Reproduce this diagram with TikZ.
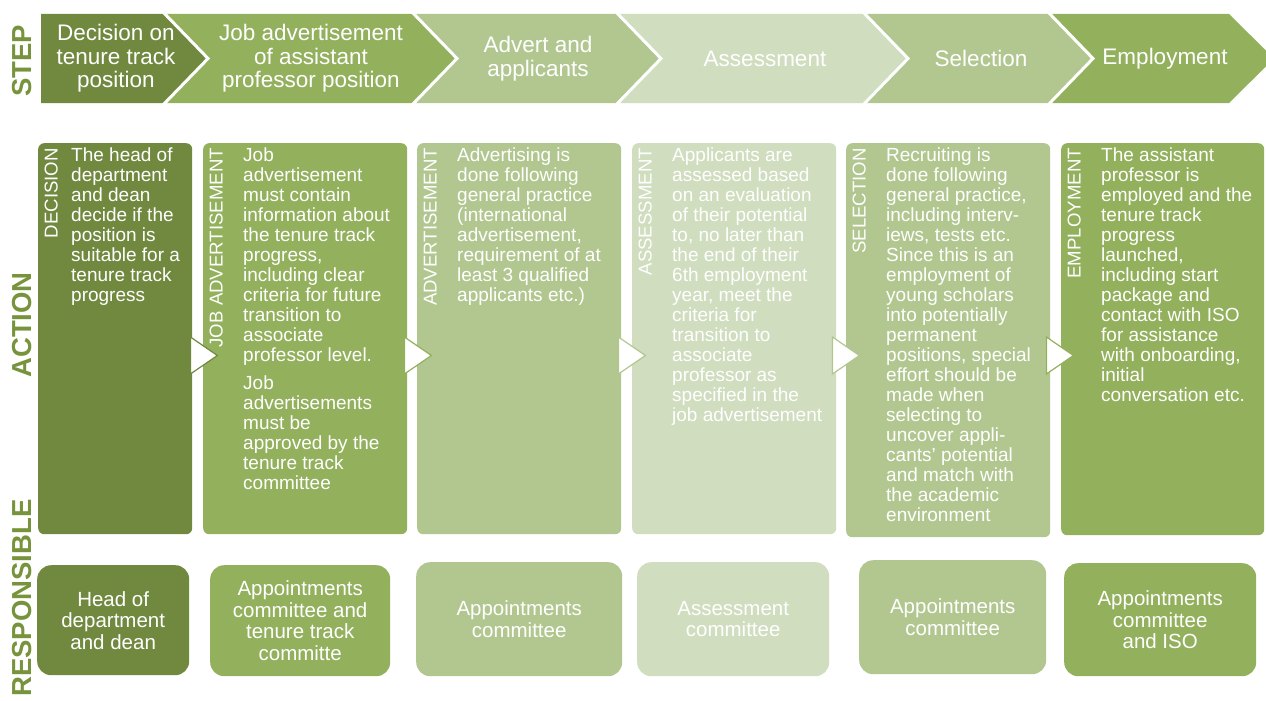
\documentclass[tikz,border=0pt]{standalone}
\usepackage{fontspec}
\setmainfont{Liberation Sans}
\usetikzlibrary{calc}
\definecolor{cA}{HTML}{71893F}
\definecolor{cB}{HTML}{93B05D}
\definecolor{cC}{HTML}{B2C790}
\definecolor{cD}{HTML}{D0DDBF}
\definecolor{labc}{HTML}{77933C}
\tikzset{
  steptext/.style={text=white, align=center, inner sep=0pt, font=\fontsize{22.5}{23.5}\selectfont},
  sidelab/.style={text=labc, rotate=90, inner sep=0pt, font=\bfseries\fontsize{27.5}{28}\selectfont},
  abox/.style={rounded corners=6pt, minimum height=391pt, anchor=north west, inner sep=0pt, draw=none},
  atext/.style={text=white, align=left, anchor=north west, inner sep=0pt, font=\fontsize{19}{20}\selectfont},
  vlab/.style={text=white, rotate=90, anchor=base east, inner sep=0pt, font=\fontsize{18.6}{19}\selectfont},
  rbox/.style={rounded corners=14pt, anchor=north west, inner sep=0pt, text=white, align=center, font=\fontsize{20.5}{21.5}\selectfont},
  arrowtri/.style={fill=white, draw=#1, line width=1.2pt, line join=miter},
  sep/.style={draw=white, line width=3pt, line join=miter}
}
\begin{document}
\begin{tikzpicture}[x=1pt,y=-1pt]
\useasboundingbox (0,0) rectangle (1266,701);
\fill[white] (0,0) rectangle (1266,701);
% ---------- STEP chevrons ----------
\fill[cA] (41,14) -- (163,14) -- (208,58.5) -- (163,103) -- (41,103) -- cycle;
\fill[cB] (163,14) -- (412,14) -- (457,58.5) -- (412,103) -- (163,103) -- (208,58.5) -- cycle;
\fill[cC] (412,14) -- (616,14) -- (661,58.5) -- (616,103) -- (412,103) -- (457,58.5) -- cycle;
\fill[cD] (616,14) -- (863,14) -- (908,58.5) -- (863,103) -- (616,103) -- (661,58.5) -- cycle;
\fill[cC] (863,14) -- (1048,14) -- (1093,58.5) -- (1048,103) -- (863,103) -- (908,58.5) -- cycle;
\fill[cB] (1048,14) -- (1229,14) -- (1274,58.5) -- (1229,103) -- (1048,103) -- (1093,58.5) -- cycle;
\draw[sep] (163,12) -- (208,58.5) -- (163,105);
\draw[sep] (412,12) -- (457,58.5) -- (412,105);
\draw[sep] (616,12) -- (661,58.5) -- (616,105);
\draw[sep] (863,12) -- (908,58.5) -- (863,105);
\draw[sep] (1048,12) -- (1093,58.5) -- (1048,105);
\node[steptext] (s1) at (116,58.5) {Decision on\\tenure track\\position};
\node[steptext] (s2) at (311,58.5) {Job advertisement\\of assistant\\professor position};
\node[steptext] (s3) at (538,58.5) {Advert and\\applicants};
\node[steptext] (s4) at (765,58.5) {Assessment};
\node[steptext] (s5) at (981,58.5) {Selection};
\node[steptext] (s6) at (1165,58.5) {Employment};
% ---------- side labels ----------
\node[sidelab] (lstep) at (22,61) {STEP};
\node[sidelab] (lact) at (22,325) {ACTION};
\node[sidelab] (lresp) at (22,598) {RESPONSIBLE};
% ---------- ACTION boxes ----------
\node[abox, fill=cA, minimum width=154pt] (a1) at (38,143) {};
\node[abox, fill=cB, minimum width=204pt] (a2) at (203,143) {};
\node[abox, fill=cC, minimum width=204pt] (a3) at (417,143) {};
\node[abox, fill=cD, minimum width=204pt] (a4) at (632,143) {};
\node[abox, fill=cC, minimum width=204pt, minimum height=394pt] (a5) at (846,143) {};
\node[abox, fill=cB, minimum width=203pt, minimum height=392pt] (a6) at (1061,143) {};
% vertical labels
\node[vlab] (v1) at ($(a1.north west)+(19.5,5)$) {DECISION};
\node[vlab] (v2) at ($(a2.north west)+(19.5,5)$) {JOB ADVERTISEMENT};
\node[vlab] (v3) at ($(a3.north west)+(19.5,5)$) {ADVERTISEMENT};
\node[vlab] (v4) at ($(a4.north west)+(19.5,5)$) {ASSESSMENT};
\node[vlab] (v5) at ($(a5.north west)+(19.5,5)$) {SELECTION};
\node[vlab] (v6) at ($(a6.north west)+(19.5,5)$) {EMPLOYMENT};
% body texts
\node[atext] (t1) at ($(a1.north west)+(33,5)$) {The head of\\department\\and dean\\decide if the\\position is\\suitable for a\\tenure track\\progress};
\node[atext] (t2) at ($(a2.north west)+(40,5)$) {Job\\advertisement\\must contain\\information about\\the tenure track\\progress,\\including clear\\criteria for future\\transition to\\associate\\professor level.\\[7.5pt]Job\\advertisements\\must be\\approved by the\\tenure track\\committee};
\node[atext] (t3) at ($(a3.north west)+(40,5)$) {Advertising is\\done following\\general practice\\(international\\advertisement,\\requirement of at\\least 3 qualified\\applicants etc.)};
\node[atext] (t4) at ($(a4.north west)+(40,5)$) {Applicants are\\assessed based\\on an evaluation\\of their potential\\to, no later than\\the end of their\\6th employment\\year, meet the\\criteria for\\transition to\\associate\\professor as\\specified in the\\job advertisement};
\node[atext] (t5) at ($(a5.north west)+(40,5)$) {Recruiting is\\done following\\general practice,\\including interv-\\iews, tests etc.\\Since this is an\\employment of\\young scholars\\into potentially\\permanent\\positions, special\\effort should be\\made when\\selecting to\\uncover appli-\\cants' potential\\and match with\\the academic\\environment};
\node[atext] (t6) at ($(a6.north west)+(40,5)$) {The assistant\\professor is\\employed and the\\tenure track\\progress\\launched,\\including start\\package and\\contact with ISO\\for assistance\\with onboarding,\\initial\\conversation etc.};
% triangles between action boxes
\draw[arrowtri=cA] ($(a1.north east)+(-2,194)$) -- ($(a1.north east)+(25,212.5)$) -- ($(a1.north east)+(-2,231)$) -- cycle;
\draw[arrowtri=cB] ($(a2.north east)+(-3,194)$) -- ($(a2.north east)+(24,212.5)$) -- ($(a2.north east)+(-3,231)$) -- cycle;
\draw[arrowtri=cC] ($(a3.north east)+(-3,194)$) -- ($(a3.north east)+(24,212.5)$) -- ($(a3.north east)+(-3,231)$) -- cycle;
\draw[arrowtri=cC] ($(a4.north east)+(-4,194)$) -- ($(a4.north east)+(23,212.5)$) -- ($(a4.north east)+(-4,231)$) -- cycle;
\draw[arrowtri=cB] ($(a5.north east)+(-4,194)$) -- ($(a5.north east)+(23,212.5)$) -- ($(a5.north east)+(-4,231)$) -- cycle;
% ---------- RESPONSIBLE boxes ----------
\node[rbox, fill=cA, minimum width=152pt, minimum height=110pt] (r1) at (37,565) {Head of\\department\\and dean};
\node[rbox, fill=cB, minimum width=180pt, minimum height=111pt] (r2) at (210,565) {Appointments\\committee and\\tenure track\\committe};
\node[rbox, fill=cC, minimum width=206pt, minimum height=114pt] (r3) at (416,562) {Appointments\\committee};
\node[rbox, fill=cD, minimum width=192pt, minimum height=114pt] (r4) at (637,562) {Assessment\\committee};
\node[rbox, fill=cC, minimum width=187pt, minimum height=114pt] (r5) at (859,560) {Appointments\\committee};
\node[rbox, fill=cB, minimum width=192pt, minimum height=113pt] (r6) at (1064,563) {Appointments\\committee\\and ISO};
\end{tikzpicture}
\end{document}
